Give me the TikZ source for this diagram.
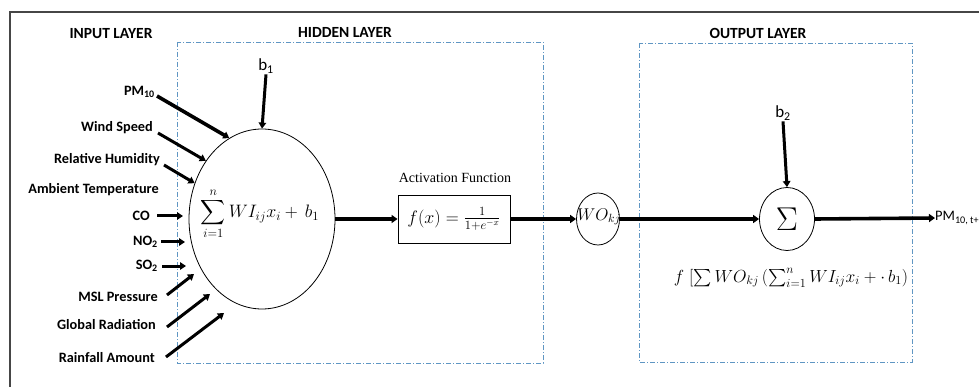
\documentclass[tikz,border=0pt]{standalone}
\usepackage{fix-cm}
\usepackage{amsmath}
\usepackage{fontspec}
\setmainfont{Liberation Serif}
\newfontfamily\calfont{Carlito}
\usetikzlibrary{arrows.meta,shapes.geometric}
\definecolor{boxblue}{RGB}{95,150,195}
\definecolor{framegray}{RGB}{70,70,70}
\tikzset{
  layerbox/.style={draw=boxblue, line width=0.9pt, dash pattern=on 5pt off 2pt on 1pt off 2pt},
  frameline/.style={draw=framegray, line width=1.3pt},
  inlab/.style={font=\calfont\bfseries\fontsize{14.3}{16}\selectfont, inner sep=0pt, anchor=east},
  layertitle/.style={font=\calfont\bfseries\fontsize{15.5}{17}\selectfont, inner sep=0pt},
  inarr/.style={line width=3pt, -{Triangle[length=6pt,width=7.5pt]}},
  mainarr/.style={line width=3.6pt, -{Triangle[length=6pt,width=8pt]}},
  unit/.style={draw, line width=0.8pt, ellipse, inner sep=0pt},
}
\begin{document}
\begin{tikzpicture}[x=1pt,y=-1pt]
\useasboundingbox (0,0) rectangle (979,387);
% frame
\draw[frameline] (979,12) -- (10,12) -- (10,387);
% layer boxes
\draw[layerbox] (177,42) rectangle (543,363);
\draw[layerbox] (639,43) rectangle (912,362);
% titles
\node[layertitle] (tin) at (111,34) {INPUT LAYER};
\node[layertitle] (thid) at (345,32) {HIDDEN LAYER};
\node[layertitle] (tout) at (758,33) {OUTPUT LAYER};
% hidden neuron
\node[unit, minimum width=146pt, minimum height=180pt] (hid) at (262,219) {};
\node[inner sep=0pt, font=\fontsize{18}{21}\selectfont] (hform) at (260,214)
  {$\displaystyle\sum_{i=1}^{n} WI_{ij}x_i +\, b_1$};
% bias 1
\node[font=\calfont\fontsize{17}{20}\selectfont, inner sep=1pt] (b1) at (266,66) {b\textsubscript{1}};
\draw[inarr] (b1.south) -- (hid.north);
% inputs
\node[inlab] (pm) at (155,92) {PM\textsubscript{10}};
\node[inlab] (ws) at (153,128) {Wind Speed};
\node[inlab] (rh) at (160,160) {Relative Humidity};
\node[inlab] (at) at (159,190) {Ambient Temperature};
\node[inlab] (co) at (150,216) {CO};
\node[inlab] (no) at (158,242) {NO\textsubscript{2}};
\node[inlab] (so) at (158,266) {SO\textsubscript{2}};
\node[inlab] (msl) at (158,297) {MSL Pressure};
\node[inlab] (gr) at (156,325) {Global Radiation};
\node[inlab] (rf) at (155,358) {Rainfall Amount};
\coordinate (eco) at (183,216);
\coordinate (eno) at (185,242);
\coordinate (eso) at (186,266);
\coordinate (emsl) at (194,274);
\coordinate (egr) at (210,294);
\coordinate (erf) at (224,313);
\draw[inarr, line width=3.6pt] ([xshift=2pt,yshift=-4pt]pm.east) -- (hid.112);
\draw[inarr] ([xshift=5pt,yshift=-5pt]ws.east) -- (hid.134);
\draw[inarr] ([xshift=4pt,yshift=-5pt]rh.east) -- (hid.152);
\draw[inarr] ([xshift=7pt]co.east) -- (eco);
\draw[inarr] ([xshift=3pt]no.east) -- (eno);
\draw[inarr] ([xshift=4pt]so.east) -- (eso);
\draw[inarr] ([xshift=9pt,yshift=2pt]msl.east) -- (emsl);
\draw[inarr] ([xshift=11pt,yshift=-2pt]gr.east) -- (egr);
\draw[inarr] ([xshift=11pt,yshift=1pt]rf.east) -- (erf);
% activation
\node[font=\fontsize{14}{16}\selectfont, inner sep=0pt] (actlab) at (455,178) {Activation Function};
\node[draw, line width=0.9pt, minimum width=112pt, minimum height=48pt, inner sep=2pt, font=\fontsize{18}{21}\selectfont] (act) at (454,219)
  {$f(x) = \frac{1}{1+e^{-x}}$};
\draw[mainarr] (hid.east) -- (act.west);
% WO
\node[unit, minimum width=43pt, minimum height=52pt] (wo) at (598,219) {};
\node[inner sep=0pt, font=\fontsize{17}{20}\selectfont] (wotext) at (599,217) {$WO_{kj}$};
\draw[mainarr] (act.east) -- (wo.west);
% sigma
\node[unit, minimum width=55pt, minimum height=63pt, font=\fontsize{33}{35}\selectfont] (sig) at (787,219) {$\Sigma$};
\draw[mainarr] (wo.east) -- (sig.west);
\node[font=\calfont\fontsize{17}{20}\selectfont, inner sep=1pt] (b2) at (783,113) {b\textsubscript{2}};
\draw[inarr] (b2.south) -- (sig.north);
\node[font=\calfont\fontsize{14.5}{16}\selectfont, inner sep=0pt, anchor=west] (pmout) at (935,218) {PM\textsubscript{10, t+}};
\draw[mainarr] (sig.east) -- (pmout.west);
\node[font=\fontsize{17.5}{20}\selectfont, inner sep=0pt] (oform) at (791,278)
  {$f\;[\sum WO_{kj}\,(\sum_{i=1}^{n} WI_{ij}x_i +\cdot\, b_1)$};
\end{tikzpicture}
\end{document}
